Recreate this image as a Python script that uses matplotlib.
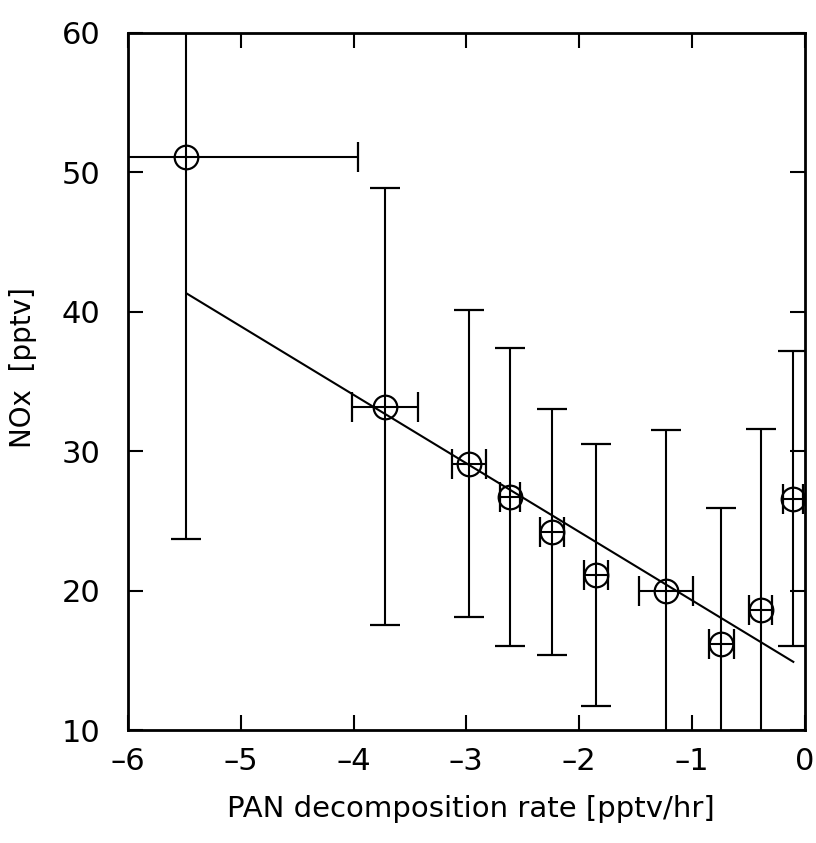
import numpy as np
from matplotlib import pyplot as plt

# PAN decomposition rate (pptv/hr) vs NOx (pptv)
pan_rate = [-5.49, -3.72, -2.98, -2.61, -2.24, -1.85, -1.23, -0.74, -0.39, -0.10]
pan_err = [1.53, 0.29, 0.15, 0.09, 0.11, 0.11, 0.24, 0.11, 0.10, 0.09]
nox = [51.1, 33.2, 29.1, 26.7, 24.2, 21.1, 20.0, 16.2, 18.6, 26.6]
nox_err = [27.4, 15.7, 11.0, 10.7, 8.8, 9.4, 11.5, 9.7, 13.0, 10.6]

# linear fit drawn in the figure
fit_slope = -4.91
fit_intercept = 14.4
fit_range = [-5.48, -0.10]

xticks = [-6, -5, -4, -3, -2, -1, 0]
xticklabels = ['\u20136', '\u20135', '\u20134', '\u20133', '\u20132', '\u20131', '0']
yticks = [10, 20, 30, 40, 50, 60]

plt.rcParams['font.family'] = ['DejaVu Sans']

fig = plt.figure(figsize=(8.16, 8.43), dpi=100)
ax = fig.add_axes([0.157, 0.134, 0.829, 0.827])

ax.errorbar(pan_rate, nox, xerr=pan_err, yerr=nox_err, fmt='o',
            color='black', mfc='none', mec='black', ms=17, mew=1.6,
            elinewidth=1.5, capsize=11, capthick=1.5)

xf = np.array(fit_range)
ax.plot(xf, fit_intercept + fit_slope * xf, color='black', lw=1.5)

ax.set_xlim(-6, 0)
ax.set_ylim(10, 60)
ax.set_xticks(xticks)
ax.set_xticklabels(xticklabels)
ax.set_yticks(yticks)
ax.tick_params(direction='in', length=11, width=1.5, top=True, right=True,
               labelsize=22)
ax.tick_params(axis='x', pad=12)
ax.tick_params(axis='y', pad=20)
for s in ax.spines.values():
    s.set_linewidth(2)

ax.set_xlabel('PAN decomposition rate [pptv/hr]', fontsize=21)
ax.set_ylabel('NOx  [pptv]', fontsize=20)
ax.xaxis.set_label_coords(0.506, -0.093)
ax.yaxis.set_label_coords(-0.135, 0.52)

plt.savefig('out.png', dpi=100)
